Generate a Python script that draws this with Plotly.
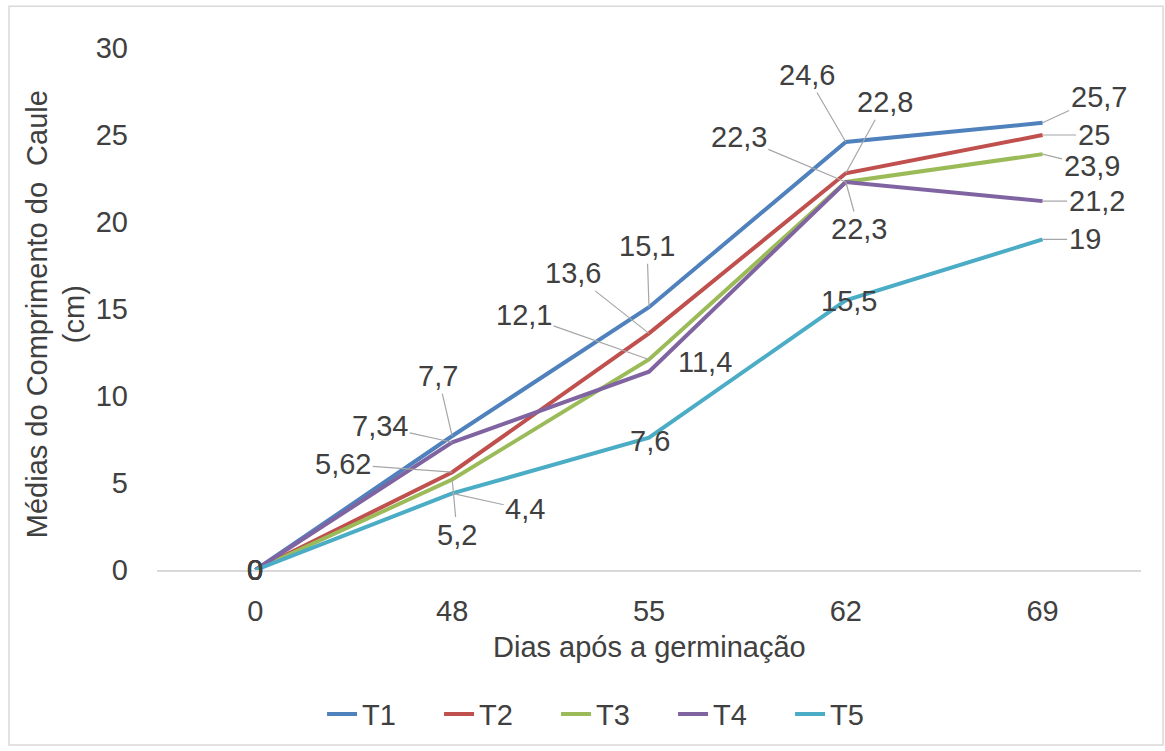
import plotly.graph_objects as go

days = ["0", "48", "55", "62", "69"]
series_names = ["T1", "T2", "T3", "T4", "T5"]
t1 = [0, 7.7, 15.1, 24.6, 25.7]
t2 = [0, 5.62, 13.6, 22.8, 25]
t3 = [0, 5.2, 12.1, 22.3, 23.9]
t4 = [0, 7.34, 11.4, 22.3, 21.2]
t5 = [0, 4.4, 7.6, 15.5, 19]
y_ticks = [0, 5, 10, 15, 20, 25, 30]

series = [t1, t2, t3, t4, t5]
colors = ["#4F81BD", "#C0504D", "#9BBB59", "#8064A2", "#4BACC6"]

# label offsets (px) of each data label from its point: (dx, dy, leader line)
label_offsets = {
    "T1": [(0, 0, False), (-14, -60, True), (-2, -61, True), (-39, -67, True), (56, -26, True)],
    "T2": [(0, 0, False), (-109, -8, True), (-76, -60, True), (39, -71, True), (51, 0, True)],
    "T3": [(0, 0, False), (5, 55, True), (-125, -44, True), (-107, -45, True), (49, 12, True)],
    "T4": [(0, 0, False), (-72, -16, True), (56, -10, False), (13, 47, True), (54, 0, True)],
    "T5": [(0, 0, False), (73, 16, True), (1, 3, False), (3, 1, False), (42, 0, True)],
}

FONT = "Liberation Sans, Arial, sans-serif"
TXT = "#404040"
FS = 29

fig = go.Figure()
for name, vals, col in zip(series_names, series, colors):
    fig.add_trace(go.Scatter(
        x=days, y=vals, name=name, mode="lines",
        line=dict(color=col, width=4),
    ))

def fmt(v):
    s = ("%g" % v)
    return s.replace(".", ",")

annotations = []
for name, vals in zip(series_names, series):
    for i, (v, (dx, dy, leader)) in enumerate(zip(vals, label_offsets[name])):
        if leader:
            annotations.append(dict(
                x=i, y=v, xref="x", yref="y", text=fmt(v),
                showarrow=True, arrowhead=0, arrowwidth=1.2, arrowcolor="#a6a6a6",
                ax=dx, ay=dy, standoff=0,
                font=dict(family=FONT, size=FS, color=TXT),
            ))
        else:
            annotations.append(dict(
                x=i, y=v, xref="x", yref="y", text=fmt(v),
                showarrow=False, xshift=dx, yshift=-dy,
                font=dict(family=FONT, size=FS, color=TXT),
            ))

# axis titles
annotations.append(dict(
    x=0.5, y=0, xref="paper", yref="paper", yshift=-77,
    text="Dias após a germinação", showarrow=False,
    xanchor="center", yanchor="middle",
    font=dict(family=FONT, size=FS, color=TXT),
))
annotations.append(dict(
    x=0, y=0.49, xref="paper", yref="paper", xshift=-101,
    text="Médias do Comprimento do  Caule<br>(cm)", showarrow=False,
    textangle=-90, xanchor="center", yanchor="middle",
    font=dict(family=FONT, size=FS, color=TXT),
))

fig.update_layout(
    width=1165, height=751,
    margin=dict(l=157, r=24, t=48, b=178),
    paper_bgcolor="white", plot_bgcolor="white",
    font=dict(family=FONT, size=FS, color=TXT),
    showlegend=True,
    legend=dict(
        orientation="h", x=0.465, y=-0.276, xanchor="center", yanchor="middle",
        font=dict(family=FONT, size=FS, color=TXT),
        itemwidth=30, tracegroupgap=0, entrywidth=72,
    ),
    annotations=annotations,
    shapes=[dict(
        type="rect", xref="paper", yref="paper",
        x0=(9 - 157) / 984, x1=(1163 - 157) / 984,
        y0=(573 - 749) / 525, y1=(573 - 6) / 525,
        line=dict(color="#d9d9d9", width=1.5), layer="below",
    )],
    xaxis=dict(
        type="category", categoryorder="array", categoryarray=days,
        range=[-0.5, 4.5], showgrid=False, zeroline=False,
        showline=True, linecolor="#d9d9d9", linewidth=2,
        ticks="", ticklabelstandoff=14,
        tickfont=dict(family=FONT, size=FS, color=TXT),
    ),
    yaxis=dict(
        range=[0, 30], tickvals=y_ticks, showgrid=False, zeroline=False,
        showline=False, ticks="", ticklabelstandoff=28,
        tickfont=dict(family=FONT, size=FS, color=TXT),
    ),
)

fig.write_html("out.html")
